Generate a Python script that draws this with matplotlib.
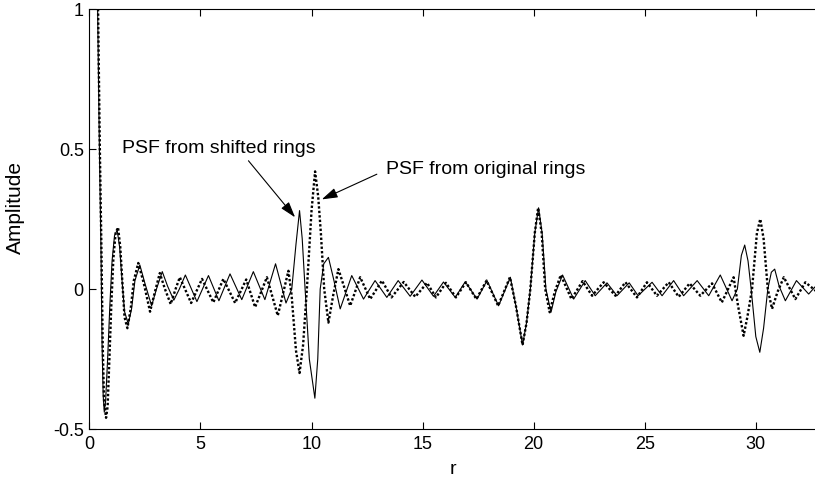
import matplotlib
matplotlib.use("Agg")
import matplotlib.pyplot as plt

# radial coordinate / amplitude (extrema + shoulders)
r_shifted = [0.37, 0.45, 0.52, 0.57, 0.62, 0.67, 0.73, 0.82, 0.92, 1.02, 1.13, 1.25, 1.36, 1.47,
             1.58, 1.75, 1.9, 2.05, 2.27, 2.5, 2.8, 3.02, 3.28, 3.52, 3.8, 4.05, 4.32, 4.84, 5.36,
             5.83, 6.33, 6.86, 7.38, 7.9, 8.38, 8.85, 9.11, 9.3, 9.46, 9.58, 9.71, 9.9, 10.15, 10.28,
             10.39, 10.55, 10.76, 10.98, 11.29, 11.81, 12.34, 12.86, 13.39, 13.9, 14.44, 14.97, 15.49,
             15.94, 16.47, 16.92, 17.45, 17.9, 18.42, 18.95, 19.2, 19.5, 19.68, 19.85, 20.05, 20.22,
             20.38, 20.55, 20.78, 21.0, 21.3, 21.8, 22.32, 22.77, 23.3, 23.75, 24.3, 24.7, 25.33,
             25.78, 26.3, 26.75, 27.36, 27.88, 28.4, 28.93, 29.17, 29.35, 29.5, 29.65, 29.79, 30.0,
             30.18, 30.35, 30.54, 30.7, 30.85, 31.05, 31.33, 31.83, 32.38, 32.75]
amp_shifted = [1.0, 0.5, 0.15, -0.2, -0.38, -0.44, -0.4, -0.25, -0.06, 0.1, 0.19, 0.21, 0.15, 0.03,
               -0.08, -0.125, -0.07, 0.03, 0.086, 0.02, -0.06, 0.0, 0.062, 0.01, -0.04, 0.0, 0.05,
               -0.045, 0.048, -0.042, 0.054, -0.038, 0.062, -0.038, 0.09, -0.05, 0.0, 0.16, 0.28,
               0.18, 0.0, -0.25, -0.39, -0.25, 0.0, 0.09, 0.113, 0.04, -0.071, 0.048, -0.036, 0.03,
               -0.03, 0.03, -0.026, 0.032, -0.026, 0.025, -0.03, 0.026, -0.036, 0.03, -0.06, 0.042,
               -0.06, -0.2, -0.12, 0.0, 0.2, 0.29, 0.2, 0.0, -0.083, -0.01, 0.05, -0.036, 0.03,
               -0.024, 0.022, -0.024, 0.022, -0.024, 0.024, -0.024, 0.03, -0.024, 0.03, -0.024,
               0.05, -0.042, 0.0, 0.12, 0.157, 0.1, 0.0, -0.17, -0.226, -0.14, 0.0, 0.06, 0.071,
               0.01, -0.042, 0.03, -0.018, 0.015]

r_original = [0.39, 0.47, 0.54, 0.6, 0.66, 0.75, 0.82, 0.9, 0.99, 1.08, 1.18, 1.29, 1.39, 1.48,
              1.58, 1.71, 1.86, 2.0, 2.2, 2.45, 2.73, 2.95, 3.17, 3.4, 3.66, 3.88, 4.07, 4.58, 5.07,
              5.58, 6.03, 6.56, 7.06, 7.46, 7.99, 8.48, 8.96, 9.1, 9.3, 9.46, 9.62, 9.79, 10.0, 10.16,
              10.3, 10.42, 10.57, 10.76, 10.98, 11.21, 11.74, 12.19, 12.64, 13.17, 13.6, 14.15, 14.67,
              15.2, 15.6, 16.05, 16.5, 16.95, 17.42, 17.88, 18.4, 18.93, 19.2, 19.5, 19.68, 19.85,
              20.05, 20.2, 20.36, 20.52, 20.72, 20.95, 21.22, 21.7, 22.2, 22.63, 23.15, 23.68, 24.13,
              24.65, 25.1, 25.55, 26.08, 26.53, 27.02, 27.5, 28.03, 28.47, 29.0, 29.2, 29.45, 29.62,
              29.83, 30.05, 30.2, 30.35, 30.54, 30.73, 30.98, 31.26, 31.78, 32.23, 32.75]
amp_original = [1.0, 0.5, 0.15, -0.2, -0.4, -0.46, -0.42, -0.25, -0.05, 0.11, 0.2, 0.22, 0.15, 0.03,
                -0.1, -0.14, -0.07, 0.03, 0.093, 0.02, -0.081, -0.01, 0.057, 0.0, -0.054, 0.0, 0.042,
                -0.05, 0.036, -0.048, 0.036, -0.05, 0.034, -0.065, 0.042, -0.095, 0.065, -0.02, -0.22,
                -0.3, -0.2, 0.0, 0.28, 0.42, 0.33, 0.2, 0.0, -0.12, -0.02, 0.071, -0.06, 0.042, -0.036,
                0.03, -0.03, 0.025, -0.028, 0.022, -0.03, 0.022, -0.03, 0.024, -0.036, 0.03, -0.06,
                0.042, -0.06, -0.2, -0.12, 0.0, 0.2, 0.29, 0.2, 0.0, -0.083, -0.01, 0.05, -0.036,
                0.028, -0.024, 0.024, -0.024, 0.024, -0.03, 0.024, -0.024, 0.024, -0.028, 0.02,
                -0.024, 0.02, -0.048, 0.042, -0.06, -0.167, -0.1, 0.0, 0.2, 0.25, 0.18, 0.0, -0.071,
                -0.01, 0.042, -0.036, 0.024, -0.01]

x_ticks = [0, 5, 10, 15, 20, 25, 30]
y_ticks = [-0.5, 0, 0.5, 1]
y_tick_labels = ["-0.5", "0", "0.5", "1"]

plt.rcParams["font.family"] = ["Liberation Sans", "DejaVu Sans"]

fig = plt.figure(figsize=(8.15, 4.85), dpi=100)
fig.patch.set_facecolor("white")
ax = fig.add_axes([89.4 / 815, 55 / 485, 727.5 / 815, 420 / 485])

ax.plot(r_shifted, amp_shifted, color="black", lw=0.8, ls="-")
ax.plot(r_original, amp_original, color="black", lw=1.7, ls=(0, (1, 0.9)))

ax.set_xlim(0, 32.75)
ax.set_ylim(-0.5, 1)
ax.set_xticks(x_ticks)
ax.set_yticks(y_ticks)
ax.set_yticklabels(y_tick_labels)
ax.tick_params(direction="in", length=5, width=0.8, top=True, right=False,
               labelsize=13, pad=4)
ax.spines["right"].set_visible(False)
for s in ("left", "bottom", "top"):
    ax.spines[s].set_linewidth(0.8)

ax.set_xlabel("r", fontsize=14)
ax.set_ylabel("Amplitude", fontsize=15)
ax.yaxis.set_label_coords(-0.088, 0.53)
ax.xaxis.set_label_coords(0.5, -0.075)

ax.text(1.47, 0.507, "PSF from shifted rings", fontsize=14, ha="left", va="center")
ax.text(13.36, 0.43, "PSF from original rings", fontsize=14, ha="left", va="center")
arrow = dict(arrowstyle="-|>,head_length=0.8,head_width=0.25", color="black", lw=0.8,
             mutation_scale=12, shrinkA=0, shrinkB=0)
ax.annotate("", xy=(9.26, 0.256), xytext=(7.16, 0.458), arrowprops=arrow)
ax.annotate("", xy=(10.46, 0.32), xytext=(12.94, 0.41), arrowprops=arrow)

fig.savefig("out.png", dpi=100, facecolor="white")
